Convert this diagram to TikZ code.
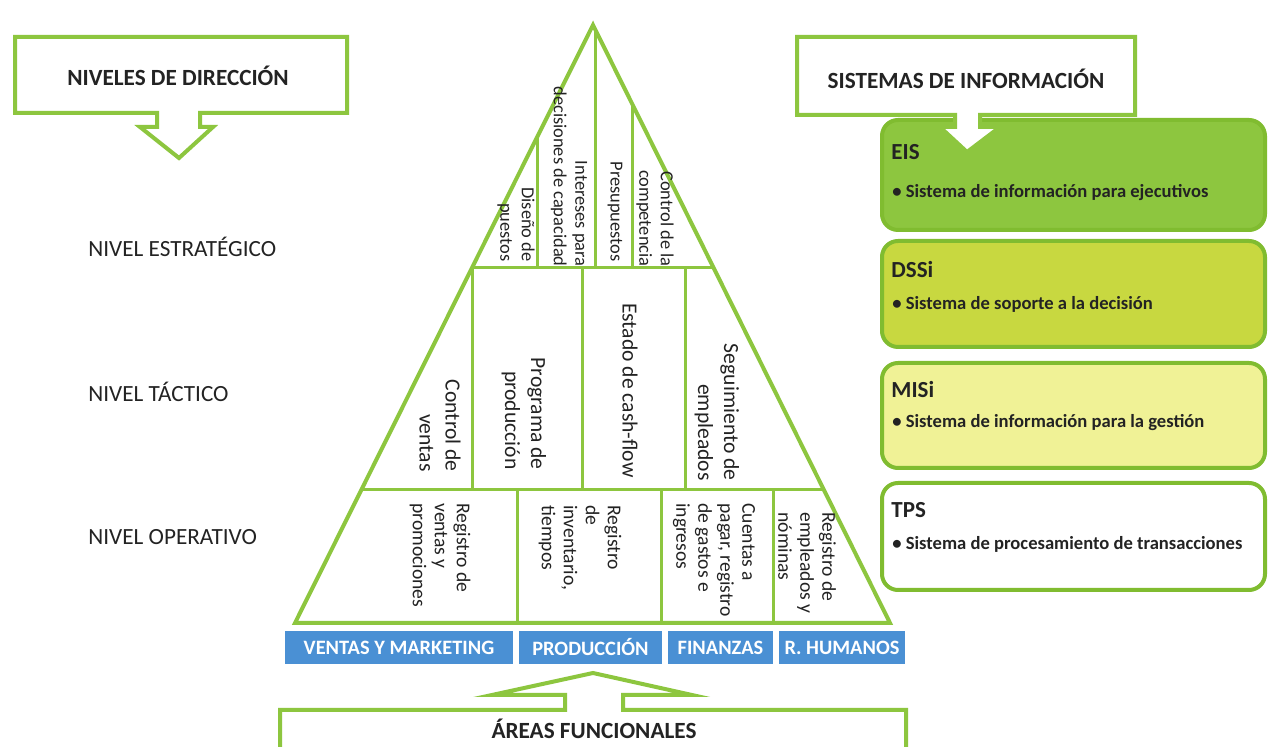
\documentclass[tikz,border=0pt]{standalone}
\usepackage{fontspec}
\setmainfont{Carlito}
\definecolor{gline}{RGB}{141,198,63}
\definecolor{gbord}{RGB}{128,188,48}
\definecolor{eisf}{RGB}{141,198,63}
\definecolor{dssf}{RGB}{200,216,64}
\definecolor{misf}{RGB}{240,242,150}
\definecolor{bluef}{RGB}{74,144,212}
\definecolor{txt}{RGB}{35,35,35}
\tikzset{
  pyr/.style={draw=gline, line width=2pt, line join=miter},
  inner/.style={draw=gline, line width=1.5pt},
  callout/.style={draw=gline, line width=2pt, fill=white, line join=miter},
  calltext/.style={text=txt, font=\bfseries\fontsize{11.6}{13}\selectfont, inner sep=0pt},
  sysbox/.style={draw=gbord, line width=2pt, rounded corners=8pt, minimum width=191.5pt, inner sep=0pt},
  systitle/.style={anchor=west, text=txt, font=\bfseries\fontsize{11.5}{13}\selectfont, inner sep=0pt},
  sysbullet/.style={anchor=west, text=txt, font=\bfseries\fontsize{9.3}{11}\selectfont, inner sep=0pt},
  area/.style={fill=bluef, text=white, font=\bfseries\fontsize{10.2}{11}\selectfont, minimum height=16.5pt, inner sep=0pt},
  level/.style={anchor=west, text=txt, font=\fontsize{11.6}{13}\selectfont, inner sep=0pt},
  vstr/.style={rotate=-90, anchor=east, align=right, text=txt, font=\fontsize{9.2}{10.8}\selectfont, inner sep=0pt},
  vtac/.style={rotate=-90, anchor=east, align=right, text=txt, font=\fontsize{10.8}{13}\selectfont, inner sep=0pt},
  vope/.style={rotate=-90, anchor=west, align=left, text=txt, font=\fontsize{9.8}{11}\selectfont, inner sep=0pt},
}
\begin{document}
\begin{tikzpicture}[x=0.5pt,y=-0.5pt]
\useasboundingbox (0,0) rectangle (1271,747);
\fill[white] (0,0) rectangle (1271,747);

% ---------- pyramid ----------
\coordinate (apex) at (593,25);
\coordinate (bl) at (295,623);
\coordinate (br) at (890,623);
\draw[inner] (472,268) -- (714,268);
\draw[inner] (361,490) -- (824,490);
% strategic verticals
\draw[inner] (537,137) -- (537,268);
\draw[inner] (595,29) -- (595,268);
\draw[inner] (632,104) -- (632,268);
% tactical verticals
\draw[inner] (472,268) -- (472,490);
\draw[inner] (582,268) -- (582,490);
\draw[inner] (685,268) -- (685,490);
% operational verticals
\draw[inner] (517,490) -- (517,623);
\draw[inner] (661,490) -- (661,623);
\draw[inner] (773,490) -- (773,623);
\draw[pyr] (apex) -- (bl) -- (br) -- cycle;

% strategic texts
\node[vstr] (s1) at (516,262) {Diseño de\\puestos};
\node[vstr] (s2) at (569,267) {Intereses para\\decisiones de capacidad};
\node[vstr] (s3) at (615,262) {Presupuestos};
\node[vstr] (s4) at (655,267) {Control de la\\competencia};
% tactical texts
\node[vtac] (t1) at (440,472) {Control de\\ventas};
\node[vtac] (t2) at (524,470) {Programa de\\producción};
\node[vtac] (t3) at (630,478) {Estado de cash-flow};
\node[vtac] (t4) at (717,481) {Seguimiento de\\empleados};
% operational texts
\node[vope] (o1) at (440,503) {Registro de\\ventas y\\promociones};
\node[vope] (o2) at (580,505) {Registro\\de\\inventario,\\tiempos};
\node[vope] (o3) at (714,503) {Cuentas a\\pagar, registro\\de gastos e\\ingresos};
\node[vope] (o4) at (807,512) {Registro de\\empleados y\\nóminas};

% ---------- functional areas ----------
\node[area, minimum width=114pt] (a1) at (399,647.5) {VENTAS Y MARKETING};
\node[area, minimum width=71.5pt] (a2) at (590.5,647.5) {PRODUCCIÓN};
\node[area, minimum width=52.5pt] (a3) at (720.5,647.5) {FINANZAS};
\node[area, minimum width=63pt] (a4) at (842,647.5) {R. HUMANOS};

% ---------- level labels ----------
\node[level] (l1) at (88,247) {NIVEL ESTRATÉGICO};
\node[level] (l2) at (88,392) {NIVEL TÁCTICO};
\node[level] (l3) at (88,537) {NIVEL OPERATIVO};

% ---------- information systems ----------
\node[sysbox, fill=eisf, minimum height=55pt] (eis) at (1073.5,175) {};
\node[sysbox, fill=dssf, minimum height=53pt] (dss) at (1073.5,294) {};
\node[sysbox, fill=misf, minimum height=52.5pt] (mis) at (1073.5,415.5) {};
\node[sysbox, fill=white, minimum height=53.5pt] (tps) at (1073.5,536.5) {};
\node[systitle] (eist) at (891,152) {EIS};
\node[sysbullet] (eisb) at (892,193) {• Sistema de información para ejecutivos};
\node[systitle] (dsst) at (891,270) {DSSi};
\node[sysbullet] (dssb) at (892,304) {• Sistema de soporte a la decisión};
\node[systitle] (mist) at (891,390) {MISi};
\node[sysbullet] (misb) at (892,423) {• Sistema de información para la gestión};
\node[systitle] (tpst) at (891,510) {TPS};
\node[sysbullet] (tpsb) at (892,544) {• Sistema de procesamiento de transacciones};

% ---------- callouts ----------
\draw[callout] (15,37) -- (347,37) -- (347,113) -- (200,113) -- (200,127) -- (213,127)
  -- (179,158) -- (140,127) -- (157,127) -- (157,113) -- (15,113) -- cycle;
\node[calltext] (niv) at (178,76) {NIVELES DE DIRECCIÓN};

\draw[callout] (797,37) -- (1135,37) -- (1135,115) -- (980,115) -- (980,127) -- (1000,127)
  -- (967,152) -- (940,127) -- (955,127) -- (955,115) -- (797,115) -- cycle;
\node[calltext] (sis) at (966,79) {SISTEMAS DE INFORMACIÓN};

\draw[callout] (280,710) -- (565,710) -- (565,695) -- (492,695) -- (593,673) -- (692,695)
  -- (623,695) -- (623,710) -- (906,710) -- (906,775) -- (280,775) -- cycle;
\node[calltext] (are) at (594,729) {ÁREAS FUNCIONALES};
\end{tikzpicture}
\end{document}
